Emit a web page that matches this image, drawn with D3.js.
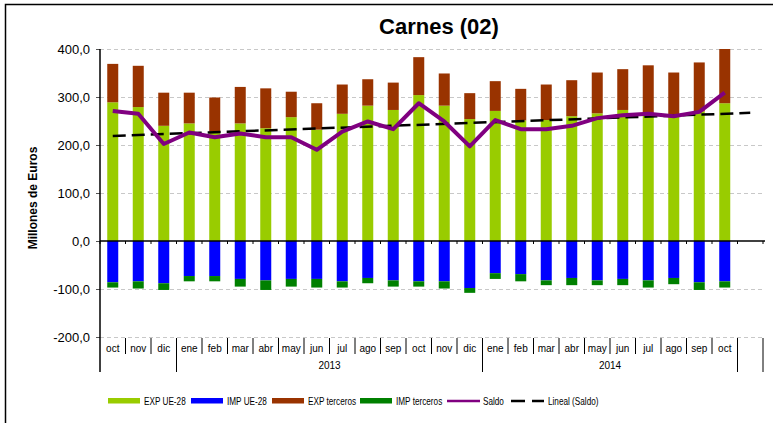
<!DOCTYPE html>
<html>
<head>
<meta charset="utf-8">
<script src="https://cdn.jsdelivr.net/npm/d3@7"></script>
<style>
  body { margin: 0; background: #fff; }
  svg { display: block; font-family: "Liberation Sans", Arial, sans-serif; }
</style>
</head>
<body>
<div class="chart"></div>
<script>
// data (millones de euros)
var months = ["oct","nov","dic","ene","feb","mar","abr","may","jun","jul","ago","sep","oct",
              "nov","dic","ene","feb","mar","abr","may","jun","jul","ago","sep","oct"];
var years = ["", "2013", "2014"];
var yearStart = [0, 3, 15];   // first month index of each year group
var expUE = [289,279,240,245,228,245,235,258,232,265,282,273,304,282,254,271,251,252,260,266,273,263,259,270,287];
var expTerceros = [80,86,69,64,71,76,83,53,55,61,55,57,79,67,54,62,66,74,75,85,85,103,92,102,113];
var impUE = [-86,-84,-88,-73,-73,-79,-82,-79,-79,-84,-77,-82,-84,-84,-98,-67,-69,-82,-77,-82,-79,-82,-77,-86,-84];
var impTerceros = [-11,-15,-14,-11,-11,-16,-20,-16,-18,-13,-11,-13,-11,-15,-10,-12,-15,-10,-15,-10,-13,-15,-13,-16,-13];
var saldo = [271,265,202,226,216,224,216,216,190,228,249,233,287,249,197,252,233,233,240,256,262,265,260,269,309];
var lineal = [219, 267];      // trend line, first and last slot
var yTicks = [-200,-100,0,100,200,300,400];

var svgW = 773, svgH = 423;
var plot = { left: 100, right: 763, top: 49, bottom: 337 };

var svg = d3.select(".chart").append("svg")
    .attr("width", svgW)
    .attr("height", svgH);

// outer frame (only top and left visible)
svg.append("rect")
    .attr("x", 5.5).attr("y", 4.5)
    .attr("width", 820).attr("height", 500)
    .attr("fill", "none")
    .attr("stroke", "#000")
    .attr("stroke-width", 1.5);

// 26 slots: 25 months + one empty slot
var slots = d3.range(months.length + 1);
var x = d3.scaleBand().domain(slots).range([plot.left, plot.right]).paddingInner(0);
var y = d3.scaleLinear().domain([-200, 400]).range([plot.bottom, plot.top]);
var barW = 11;
var fmt = function(v) { return d3.format(".1f")(v).replace(".", ",").replace("−", "-"); };

// title
svg.append("text")
    .attr("x", 439).attr("y", 34)
    .attr("text-anchor", "middle")
    .attr("font-size", 22)
    .attr("font-weight", "bold")
    .text("Carnes (02)");

// gridlines
svg.append("g").selectAll("line")
    .data(yTicks.filter(function(d) { return d !== 0; }))
    .enter().append("line")
    .attr("x1", plot.left).attr("x2", plot.right)
    .attr("y1", function(d) { return y(d) + 0.5; })
    .attr("y2", function(d) { return y(d) + 0.5; })
    .attr("stroke", "#c8c8c8")
    .attr("stroke-width", 1)
    .attr("stroke-dasharray", "4,3");

// y axis
var yaxis = d3.axisLeft(y).tickValues(yTicks).tickSize(4).tickPadding(6).tickFormat(fmt);
var gy = svg.append("g")
    .attr("transform", "translate(" + plot.left + ",0)")
    .call(yaxis);
gy.select(".domain").remove();
gy.selectAll("text").attr("font-size", 13).attr("fill", "#000")
    .style("font-family", "'Liberation Sans', Arial, sans-serif");
gy.selectAll("line").attr("stroke", "#555");

svg.append("text")
    .attr("transform", "translate(37," + 198 + ") rotate(-90)")
    .attr("text-anchor", "middle")
    .attr("font-size", 12)
    .attr("font-weight", "bold")
    .text("Millones de Euros");

// stacked bars
function bar(vals, base, color) {
    svg.append("g").selectAll("rect")
        .data(vals)
        .enter().append("rect")
        .attr("x", function(d, i) { return x(i) + (x.bandwidth() - barW) / 2; })
        .attr("width", barW)
        .attr("y", function(d, i) { return y(Math.max(base[i], base[i] + d)); })
        .attr("height", function(d) { return Math.abs(y(0) - y(d)); })
        .attr("fill", color);
}
var zeros = months.map(function() { return 0; });
bar(expUE, zeros, "#99cc00");
bar(expTerceros, expUE, "#993300");
bar(impUE, zeros, "#0000ff");
bar(impTerceros, impUE, "#008000");

var cx = function(i) { return x(i) + x.bandwidth() / 2; };

// trend line
svg.append("line")
    .attr("x1", cx(0)).attr("y1", y(lineal[0]))
    .attr("x2", cx(slots.length - 1)).attr("y2", y(lineal[1]))
    .attr("stroke", "#000")
    .attr("stroke-width", 2.5)
    .attr("stroke-dasharray", "13,6");

// saldo line
svg.append("path")
    .datum(saldo)
    .attr("fill", "none")
    .attr("stroke", "#800080")
    .attr("stroke-width", 4)
    .attr("stroke-linejoin", "round")
    .attr("d", d3.line().x(function(d, i) { return cx(i); }).y(function(d) { return y(d); }));

// zero axis with small ticks
svg.append("line")
    .attr("x1", plot.left).attr("x2", plot.right + 2)
    .attr("y1", y(0)).attr("y2", y(0))
    .attr("stroke", "#000").attr("stroke-width", 1.5);
svg.append("g").selectAll("line")
    .data(slots.concat([slots.length]))
    .enter().append("line")
    .attr("x1", function(i) { return plot.left + i * x.step(); })
    .attr("x2", function(i) { return plot.left + i * x.step(); })
    .attr("y1", y(0)).attr("y2", y(0) + 3)
    .attr("stroke", "#000");

// vertical value axis line
svg.append("line")
    .attr("x1", plot.left).attr("x2", plot.left)
    .attr("y1", plot.top).attr("y2", 372)
    .attr("stroke", "#000").attr("stroke-width", 1.5);

// category labels (months)
var catTop = plot.bottom + 1;
svg.append("g").selectAll("text")
    .data(months)
    .enter().append("text")
    .attr("x", function(d, i) { return cx(i); })
    .attr("y", 352)
    .attr("text-anchor", "middle")
    .attr("font-size", 10)
    .text(function(d) { return d; });

// separators: short between months, tall at year boundaries
var tall = yearStart.concat([months.length, months.length + 1]);
svg.append("g").selectAll("line")
    .data(d3.range(1, slots.length + 1))
    .enter().append("line")
    .attr("x1", function(i) { return plot.left + i * x.step(); })
    .attr("x2", function(i) { return plot.left + i * x.step(); })
    .attr("y1", catTop)
    .attr("y2", function(i) { return tall.indexOf(i) >= 0 ? 372 : 354; })
    .attr("stroke", "#000")
    .attr("stroke-width", 1);

// year labels
svg.append("g").selectAll("text")
    .data(years)
    .enter().append("text")
    .attr("x", function(d, i) {
        var a = yearStart[i], b = (i + 1 < yearStart.length) ? yearStart[i + 1] : months.length;
        return plot.left + (a + b) / 2 * x.step();
    })
    .attr("y", 369)
    .attr("text-anchor", "middle")
    .attr("font-size", 10)
    .text(function(d) { return d; });

// legend
var legend = [
    { name: "EXP UE-28", color: "#99cc00", type: "rect", x: 108 },
    { name: "IMP UE-28", color: "#0000ff", type: "rect", x: 191 },
    { name: "EXP terceros", color: "#993300", type: "rect", x: 272 },
    { name: "IMP terceros", color: "#008000", type: "rect", x: 360 },
    { name: "Saldo", color: "#800080", type: "line", x: 447 },
    { name: "Lineal  (Saldo)", color: "#000", type: "dash", x: 511 }
];
var ly = 401;
var lg = svg.append("g").selectAll("g").data(legend).enter().append("g");
lg.filter(function(d) { return d.type === "rect"; }).append("rect")
    .attr("x", function(d) { return d.x; }).attr("y", ly - 3)
    .attr("width", 32).attr("height", 5.5)
    .attr("fill", function(d) { return d.color; });
lg.filter(function(d) { return d.type !== "rect"; }).append("line")
    .attr("x1", function(d) { return d.x; }).attr("x2", function(d) { return d.x + 33; })
    .attr("y1", ly).attr("y2", ly)
    .attr("stroke", function(d) { return d.color; })
    .attr("stroke-width", 2.5)
    .attr("stroke-dasharray", function(d) { return d.type === "dash" ? "14,7" : null; });
lg.append("text")
    .attr("transform", function(d) {
        return "translate(" + (d.x + (d.type === "dash" ? 37 : 36)) + "," + (ly + 3.8) + ") scale(0.78,1)";
    })
    .attr("font-size", 10.5)
    .text(function(d) { return d.name; });
</script>
</body>
</html>
